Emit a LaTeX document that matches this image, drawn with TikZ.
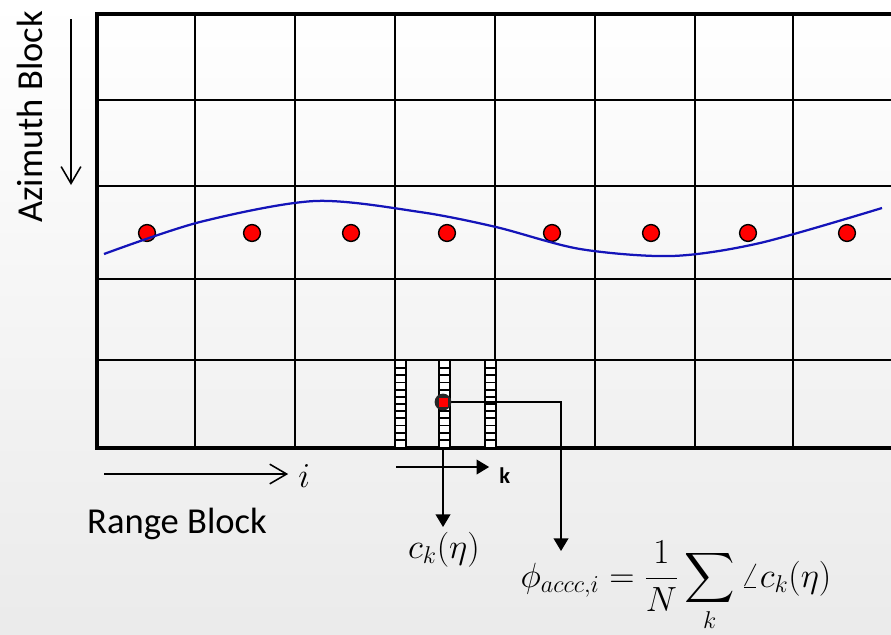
\documentclass[tikz,border=0pt]{standalone}
\usepackage{exscale}
\usepackage[no-math]{fontspec}
\setmainfont{Carlito}
\usetikzlibrary{arrows.meta,positioning}
\definecolor{wave}{RGB}{20,20,185}
\begin{document}
\begin{tikzpicture}[
    x=0.025cm, y=-0.025cm,
    gridline/.style={line width=1.1pt},
    frame/.style={line width=2.9pt},
    rail/.style={line width=1.5pt},
    rung/.style={line width=1.3pt},
    target/.style={circle, draw, fill=red, line width=1pt, minimum size=0.42cm, inner sep=0pt},
    cell/.style={circle, fill=black!85, minimum size=0.42cm, inner sep=0pt},
    lead/.style={line width=1.1pt, -{Triangle[length=9pt, width=10.5pt]}},
    axis/.style={line width=1.1pt, -{Straight Barb[length=12pt, width=14pt]}},
    label/.style={font=\fontsize{26}{30}\selectfont},
    formula/.style={font=\fontsize{23}{27}\selectfont},
  ]
  \clip (0,0) rectangle (891,634);
  \shade[top color=white, middle color=white, bottom color=black!8] (0,0) rectangle (891,634);

  % range/azimuth blocks
  \foreach \x in {195,295,395,495,595,695,793}
    \draw[gridline] (\x,14) -- (\x,448);
  \foreach \y in {100,186,279,360}
    \draw[gridline] (97,\y) -- (895,\y);
  \draw[frame] (895,14) -- (97,14) -- (97,448) -- (895,448);

  % samples along the azimuth line
  \foreach \x [count=\n] in {147,252,351,447,552,651,748,847}
    \node[target] (dot\n) at (\x,233) {};
  \draw[wave, line width=1.6pt] plot[smooth] coordinates {(104,254) (200,222) (315,201) (420,212)
    (496,227) (580,249) (672,256) (760,243) (882,208)};

  % range lines inside one block
  \coordinate (cellpos) at (443,402);
  \coordinate (ckend) at (443,527);
  \coordinate (phiend) at (561,551);
  \draw[lead] (cellpos) -- (ckend);
  \foreach \l in {395,439,485} {
    \fill[white] (\l,361) rectangle (\l+11,447);
    \draw[rail] (\l,361) -- (\l,447) (\l+11,361) -- (\l+11,447);
    \foreach \k in {1,...,11}
      \draw[rung] (\l,361+\k*7.17) -- (\l+11,361+\k*7.17);
  }
  \draw[lead] (cellpos) -| (phiend);
  \node[cell] (cell) at (cellpos) {};
  \fill[red] (cell.center) +(-4.5,-4.5) rectangle +(4.5,4.5);

  % axes
  \coordinate (azstart) at (71,19);
  \coordinate (azend) at (71,185);
  \draw[axis] (azstart) -- (azend);
  \node[label, rotate=90, anchor=base] (azimuth) at (42,117) {Azimuth Block};
  \node[font=\fontsize{28}{32}\selectfont, anchor=base west, inner sep=0pt] (i) at (298,487) {$i$};
  \coordinate (istart) at (104,474);
  \draw[axis, shorten >=7pt] (istart) -- (istart -| i.west);
  \node[label, anchor=base] (range) at (177,533) {Range Block};
  \node[font=\fontsize{16}{18}\selectfont\bfseries, anchor=base west, inner sep=0pt] (k) at (499,483) {k};
  \coordinate (kstart) at (396,467);
  \draw[lead, shorten >=7pt] (kstart) -- (kstart -| k.west);

  % phase estimates
  \node[formula, anchor=base] (ck) at (444,558) {$c_k(\eta)$};
  \node[formula, anchor=base] (phi) at (676,587)
    {$\displaystyle \phi_{accc,i} = \frac{1}{N}\sum_k \angle c_k(\eta)$};
\end{tikzpicture}
\end{document}
